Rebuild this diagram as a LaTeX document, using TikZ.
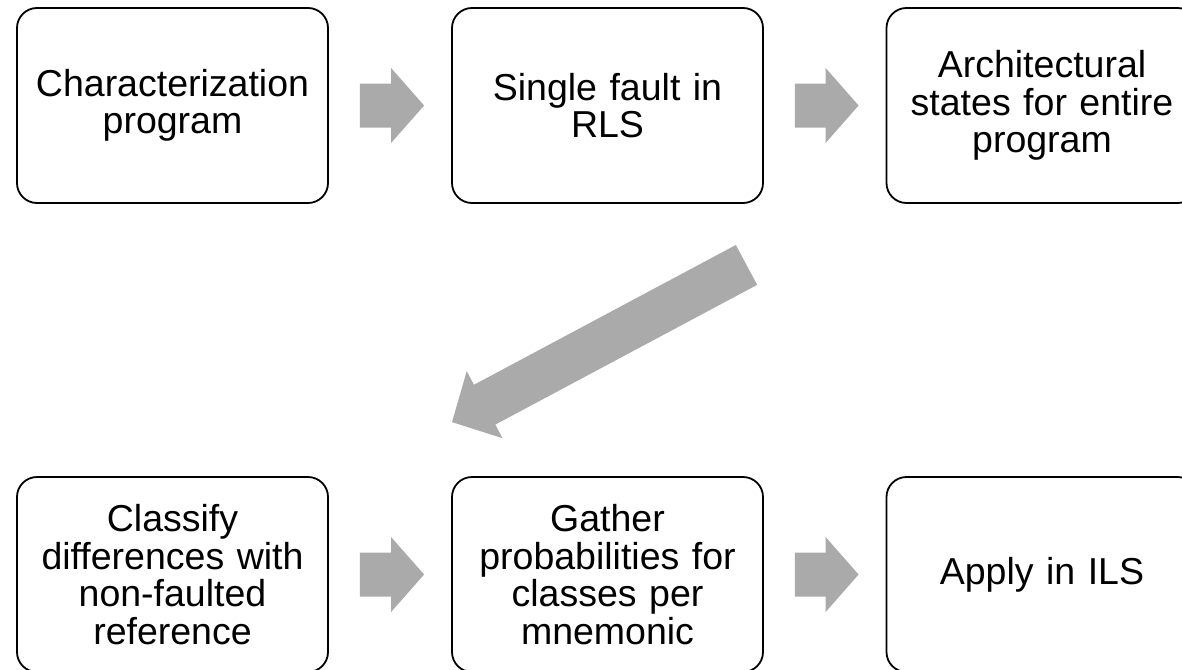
\documentclass[tikz,border=0pt]{standalone}
\usepackage{fontspec}
\setmainfont{Liberation Sans}
\usetikzlibrary{calc}
\definecolor{arrowgray}{RGB}{170,170,170}
\tikzset{
  stepbox/.style={draw=black, line width=1.8pt, rounded corners=20pt, fill=white,
    minimum width=311pt, minimum height=195pt, text width=300pt, align=center,
    inner sep=0pt, font=\fontsize{37.5}{37.5}\selectfont},
  blockfill/.style={fill=arrowgray}
}
% #1 tail, #2 tip, #3 head length, #4 head half width, #5 body half width
\newcommand\blockarrow[5]{%
  \coordinate (ba-h) at ($(#2)!#3!(#1)$);
  \fill[blockfill] ($(#1)!#5!90:(#2)$) -- ($(ba-h)!#5!90:(#2)$) -- ($(ba-h)!#4!90:(#2)$)
    -- (#2) -- ($(ba-h)!#4!-90:(#2)$) -- ($(ba-h)!#5!-90:(#2)$) -- ($(#1)!#5!-90:(#2)$) -- cycle;
}
\begin{document}
\begin{tikzpicture}[x=1pt,y=-1pt]
\useasboundingbox (0,0) rectangle (1182,669);
\clip (0,0) rectangle (1182,669);
\node[stepbox] (b1) at (172.5,105.5) {Characterization\\program};
\node[stepbox] (b2) at (607.5,105.5) {Single fault in\\RLS};
\node[stepbox] (b3) at (1042,105.5) {Architectural\\states for entire\\program};
\node[stepbox] (b4) at (172.5,574.5) {Classify\\differences with\\non-faulted\\reference};
\node[stepbox] (b5) at (607.5,574.5) {Gather\\probabilities for\\classes per\\mnemonic};
\node[stepbox] (b6) at (1042,574.5) {Apply in ILS};
% horizontal arrows
\coordinate (a1s) at ($(b1.east)+(31,0)$);
\coordinate (a1e) at ($(b2.west)+(-27,0)$);
\coordinate (a2s) at ($(b2.east)+(31,0)$);
\coordinate (a2e) at ($(b3.west)+(-27,0)$);
\coordinate (a3s) at ($(b4.east)+(31,0)$);
\coordinate (a3e) at ($(b5.west)+(-27,0)$);
\coordinate (a4s) at ($(b5.east)+(31,0)$);
\coordinate (a4e) at ($(b6.west)+(-27,0)$);
\blockarrow{a1s}{a1e}{33pt}{37.5pt}{22pt}
\blockarrow{a2s}{a2e}{33pt}{37.5pt}{22pt}
\blockarrow{a3s}{a3e}{33pt}{37.5pt}{22pt}
\blockarrow{a4s}{a4e}{33pt}{37.5pt}{22pt}
% diagonal arrow
\coordinate (ds) at ($(b3.south)+(-295.5,61)$);
\coordinate (de) at ($(b5.north)+(-155.5,-54)$);
\blockarrow{ds}{de}{37pt}{38pt}{22.6pt}
\end{tikzpicture}
\end{document}
